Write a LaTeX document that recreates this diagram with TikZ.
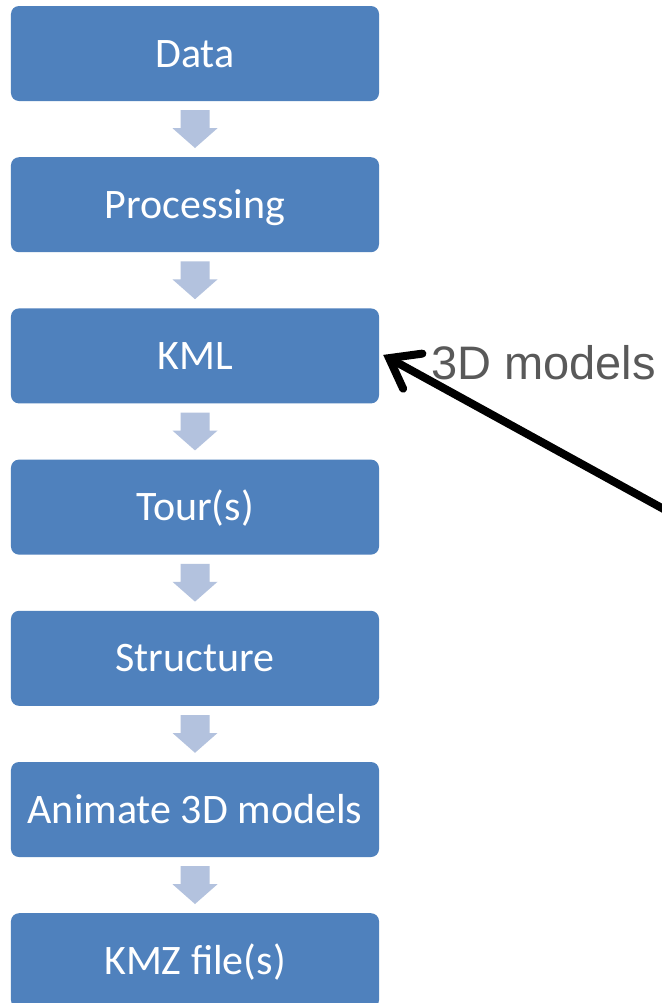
\documentclass[tikz,border=0pt]{standalone}
\usepackage{fontspec}
\setmainfont{Carlito}
\newfontfamily\arialfont{Liberation Sans}
\usetikzlibrary{arrows.meta}
\definecolor{boxblue}{HTML}{4F81BD}
\definecolor{arrowblue}{HTML}{B3C2DE}
\definecolor{labelgray}{HTML}{595959}
\tikzset{
  stepbox/.style={fill=boxblue, rounded corners=8bp, minimum width=368bp, minimum height=95bp,
    inner sep=0pt, text=white, font=\fontsize{42bp}{50bp}\selectfont, text height=27bp, text depth=0pt},
  blockarrow/.style={fill=arrowblue, draw=none},
}
\begin{document}
\begin{tikzpicture}[x=1bp, y=-1bp]
\useasboundingbox (0,0) rectangle (662,1003);
\clip (0,0) rectangle (662,1003);
\fill[white] (0,0) rectangle (662,1003);
\node[stepbox] (b1) at (195,53.5) {Data};
\node[stepbox] (b2) at (195,204.7) {Processing};
\node[stepbox] (b3) at (195,355.9) {KML};
\node[stepbox] (b4) at (195,507.1) {Tour(s)};
\node[stepbox] (b5) at (195,658.3) {Structure};
\node[stepbox] (b6) at (195,809.5) {Animate 3D models};
\node[stepbox] (b7) at (195,960.7) {KMZ file(s)};
\foreach \a/\b in {b1/b2,b2/b3,b3/b4,b4/b5,b5/b6,b6/b7}{
  \path[blockarrow] ([xshift=-14.5bp,yshift=-9bp]\a.south) -- ([xshift=14.5bp,yshift=-9bp]\a.south)
    -- ([xshift=14.5bp,yshift=-27bp]\a.south) -- ([xshift=22.5bp,yshift=-27bp]\a.south)
    -- ([yshift=9bp]\b.north) -- ([xshift=-22.5bp,yshift=-27bp]\a.south)
    -- ([xshift=-14.5bp,yshift=-27bp]\a.south) -- cycle;
}
\node[anchor=base west, text=labelgray, font=\arialfont\fontsize{47bp}{55bp}\selectfont, inner sep=0pt] (lbl) at (431,379) {3D models};
\coordinate (tail) at (720,540);
\draw[line width=8bp, line cap=round, -{Straight Barb[length=27bp, width=40bp, line cap=round]}] (tail) -- ([xshift=4bp,yshift=1bp]b3.east);
\end{tikzpicture}
\end{document}
